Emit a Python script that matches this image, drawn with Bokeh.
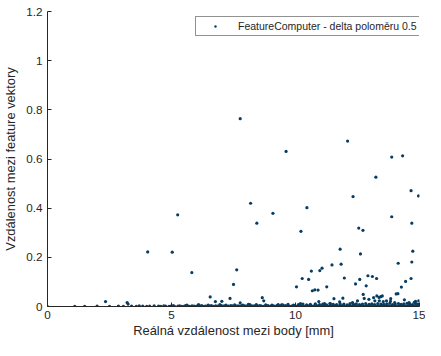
from bokeh.plotting import figure
from bokeh.models import Range1d, FixedTicker, Legend, LegendItem, ColumnDataSource
from bokeh.embed import file_html
from bokeh.resources import INLINE

# ---------------- data ----------------
x_ticks = [0, 5, 10, 15]
x_tick_labels = ["0", "5", "10", "15"]
y_ticks = [0, 0.2, 0.4, 0.6, 0.8, 1.0, 1.2]
y_tick_labels = ["0", "0.2", "0.4", "0.6", "0.8", "1", "1.2"]

series_name = "FeatureComputer - delta poloměru 0.5"
x_label = "Reálná vzdálenost mezi body [mm]"
y_label = "Vzdálenost mezi feature vektory"

# scattered outliers
outlier_x = [7.77, 12.10, 9.62, 13.88, 14.32, 13.24, 14.66, 14.96, 12.32, 8.19,
             5.25, 9.09, 13.88, 8.44, 10.46, 14.69, 12.55, 12.72, 10.22, 4.04,
             5.03, 11.80, 12.62, 14.73, 5.82, 7.63, 7.50, 14.14, 14.69, 11.84,
             11.47, 11.07, 10.98, 10.64, 10.27, 10.53, 11.97, 12.92, 13.10, 13.27,
             12.59, 12.42, 12.85, 14.44, 14.66, 14.27, 10.04, 11.26]
outlier_y = [0.764, 0.673, 0.631, 0.608, 0.613, 0.526, 0.471, 0.450, 0.447, 0.420,
             0.373, 0.379, 0.365, 0.339, 0.402, 0.339, 0.319, 0.310, 0.306, 0.222,
             0.221, 0.233, 0.214, 0.225, 0.138, 0.149, 0.090, 0.176, 0.181, 0.172,
             0.169, 0.156, 0.146, 0.144, 0.114, 0.110, 0.116, 0.125, 0.122, 0.114,
             0.110, 0.092, 0.084, 0.102, 0.114, 0.079, 0.080, 0.080]

# small values just above the floor
low_x = [2.34, 3.21, 3.25, 6.08, 6.56, 6.77, 7.03, 7.36, 7.77, 8.10,
         8.16, 8.66, 8.72, 9.44, 10.20, 10.94, 11.55, 11.91, 12.73, 12.77,
         12.96, 10.68, 10.78, 10.91, 13.37, 13.44, 13.50, 13.38, 13.54, 13.84,
         13.83, 14.06, 14.13, 14.84, 14.79, 11.17, 11.39, 11.78, 12.30, 12.50,
         13.15, 13.28, 13.20, 13.67, 14.00, 14.39, 14.58, 14.97]
low_y = [0.020, 0.016, 0.010, 0.007, 0.039, 0.020, 0.021, 0.033, 0.015, 0.009,
         0.008, 0.036, 0.023, 0.007, 0.012, 0.020, 0.032, 0.034, 0.049, 0.033,
         0.029, 0.064, 0.068, 0.067, 0.037, 0.040, 0.043, 0.023, 0.020, 0.032,
         0.021, 0.051, 0.052, 0.021, 0.017, 0.012, 0.012, 0.019, 0.016, 0.023,
         0.036, 0.043, 0.023, 0.023, 0.016, 0.027, 0.016, 0.023]

# points lying on the floor (sparse part)
floor_sparse_x = [0.00, 1.10, 1.50, 2.00, 2.50, 2.86, 3.06, 3.39, 3.58, 3.70,
                  3.84, 4.00, 4.12, 4.30]
floor_sparse_y = [0.000, 0.001, 0.001, 0.002, 0.001, 0.002, 0.001, 0.002, 0.001, 0.003,
                  0.002, 0.001, 0.002, 0.003]

# dense floor band, lower row
band_a_x = [4.48, 4.57, 4.69, 4.76, 4.90, 4.98, 5.07, 5.12, 5.26, 5.33,
            5.41, 5.52, 5.58, 5.66, 5.74, 5.83, 5.91, 5.99, 6.06, 6.15,
            6.22, 6.31, 6.37, 6.46, 6.55, 6.61, 6.70, 6.78, 6.86, 6.93,
            7.01, 7.09, 7.15, 7.24, 7.30, 7.39, 7.46, 7.53, 7.61, 7.68,
            7.75, 7.83, 7.90, 7.96, 8.05, 8.11, 8.19, 8.26, 8.33, 8.40,
            8.46, 8.55, 8.61, 8.69, 8.75, 8.83, 8.89, 8.97, 9.03, 9.11,
            9.17, 9.25, 9.31, 9.38, 9.46, 9.52, 9.59, 9.67, 9.73, 9.81,
            9.87, 9.95, 10.01, 10.08, 10.15, 10.22, 10.29, 10.36, 10.43, 10.50,
            10.57, 10.63, 10.71, 10.77, 10.85, 10.92, 10.98, 11.06, 11.12, 11.20,
            11.27, 11.33, 11.41, 11.48, 11.54, 11.62, 11.69, 11.75, 11.83, 11.90,
            11.96, 12.04, 12.11, 12.17, 12.25, 12.32, 12.38, 12.46, 12.53, 12.59,
            12.67, 12.74, 12.80, 12.88, 12.95, 13.01, 13.09, 13.16, 13.22, 13.30,
            13.37, 13.43, 13.51, 13.58, 13.64, 13.72, 13.79, 13.85, 13.93, 14.00,
            14.06, 14.14, 14.21, 14.27, 14.35, 14.42, 14.48, 14.56, 14.63, 14.69,
            14.77, 14.84, 14.90, 14.97]
band_a_y = [0.002, 0.001, 0.003, 0.002, 0.001, 0.002, 0.004, 0.001, 0.002, 0.003,
            0.001, 0.002, 0.004, 0.002, 0.001, 0.003, 0.002, 0.001, 0.003, 0.002,
            0.004, 0.001, 0.002, 0.003, 0.002, 0.004, 0.001, 0.003, 0.002, 0.001,
            0.004, 0.002, 0.003, 0.001, 0.002, 0.004, 0.003, 0.001, 0.002, 0.003,
            0.002, 0.004, 0.001, 0.003, 0.002, 0.001, 0.004, 0.002, 0.003, 0.001,
            0.002, 0.004, 0.003, 0.001, 0.002, 0.003, 0.004, 0.001, 0.002, 0.003,
            0.001, 0.004, 0.002, 0.003, 0.001, 0.002, 0.004, 0.003, 0.002, 0.001,
            0.003, 0.004, 0.002, 0.001, 0.003, 0.002, 0.004, 0.001, 0.003, 0.002,
            0.004, 0.001, 0.002, 0.003, 0.004, 0.002, 0.001, 0.003, 0.004, 0.002,
            0.003, 0.001, 0.004, 0.002, 0.003, 0.004, 0.001, 0.002, 0.003, 0.004,
            0.002, 0.001, 0.003, 0.004, 0.002, 0.003, 0.001, 0.004, 0.002, 0.003,
            0.004, 0.001, 0.002, 0.003, 0.004, 0.002, 0.001, 0.003, 0.004, 0.002,
            0.003, 0.001, 0.004, 0.002, 0.003, 0.004, 0.001, 0.002, 0.003, 0.004,
            0.002, 0.001, 0.003, 0.004, 0.002, 0.003, 0.001, 0.004, 0.002, 0.003,
            0.004, 0.001, 0.002, 0.003]

# dense floor band, upper row
band_b_x = [5.62, 6.10, 6.48, 6.95, 7.20, 7.55, 7.88, 8.42, 8.80, 9.05,
            9.30, 9.48, 9.70, 9.92, 10.12, 10.30, 10.45, 10.60, 10.80, 10.97,
            11.10, 11.25, 11.40, 11.52, 11.66, 11.80, 11.95, 12.08, 12.20, 12.34,
            12.45, 12.58, 12.70, 12.83, 12.97, 13.08, 13.19, 13.32, 13.45, 13.56,
            13.68, 13.80, 13.91, 14.02, 14.15, 14.26, 14.37, 14.50, 14.61, 14.72,
            14.85, 14.93]
band_b_y = [0.006, 0.007, 0.006, 0.008, 0.006, 0.007, 0.006, 0.008, 0.007, 0.006,
            0.008, 0.007, 0.009, 0.006, 0.008, 0.010, 0.007, 0.009, 0.011, 0.008,
            0.010, 0.007, 0.012, 0.009, 0.008, 0.011, 0.010, 0.007, 0.012, 0.009,
            0.011, 0.008, 0.010, 0.012, 0.009, 0.011, 0.008, 0.012, 0.010, 0.009,
            0.011, 0.013, 0.008, 0.010, 0.012, 0.009, 0.011, 0.013, 0.010, 0.008,
            0.012, 0.010]

all_x = outlier_x + low_x + floor_sparse_x + band_a_x + band_b_x
all_y = outlier_y + low_y + floor_sparse_y + band_a_y + band_b_y

# ---------------- figure ----------------
FONT = "Liberation Sans"
INK = "#262626"
DOT = "#083d63"

p = figure(width=425, height=340, output_backend="svg", toolbar_location=None,
           x_range=Range1d(0, 15), y_range=Range1d(0, 1.2),
           min_border_left=42, min_border_right=6, min_border_top=11, min_border_bottom=0)
p.background_fill_color = "white"
p.border_fill_color = "white"
p.outline_line_color = None
p.grid.visible = False

src = ColumnDataSource(dict(x=all_x, y=all_y))
r = p.scatter("x", "y", source=src, marker="circle", size=3.2,
              fill_color=DOT, line_color=None)

for ax, ticks, labels in ((p.xaxis[0], x_ticks, x_tick_labels), (p.yaxis[0], y_ticks, y_tick_labels)):
    ax.ticker = FixedTicker(ticks=ticks)
    ax.major_label_overrides = {t: l for t, l in zip(ticks, labels)}
    ax.minor_tick_line_color = None
    ax.major_tick_in = 4
    ax.major_tick_out = 0
    ax.axis_line_color = INK
    ax.axis_line_width = 1
    ax.major_tick_line_color = INK
    ax.major_tick_line_width = 1
    ax.major_label_text_font = FONT
    ax.major_label_text_font_size = "11.7px"
    ax.major_label_text_color = INK
    ax.axis_label_text_font = FONT
    ax.axis_label_text_font_size = "12.9px"
    ax.axis_label_text_font_style = "normal"
    ax.axis_label_text_color = INK

p.xaxis.axis_label = x_label
p.yaxis.axis_label = y_label
p.xaxis.major_label_standoff = 4
p.xaxis.axis_label_standoff = 1
p.yaxis.major_label_standoff = 5
p.yaxis.axis_label_standoff = 5

legend = Legend(items=[LegendItem(label=series_name, renderers=[r])],
                location=(148, 270), orientation="vertical",
                padding=3, spacing=0, margin=0,
                glyph_width=32, glyph_height=6, label_height=11,
                label_width=181, label_standoff=7,
                label_text_font=FONT, label_text_font_size="10.5px",
                label_text_color=INK,
                border_line_color=INK, border_line_width=1,
                background_fill_color="white", background_fill_alpha=1.0)
p.add_layout(legend, "center")

open("out.html", "w").write(file_html(p, INLINE))
